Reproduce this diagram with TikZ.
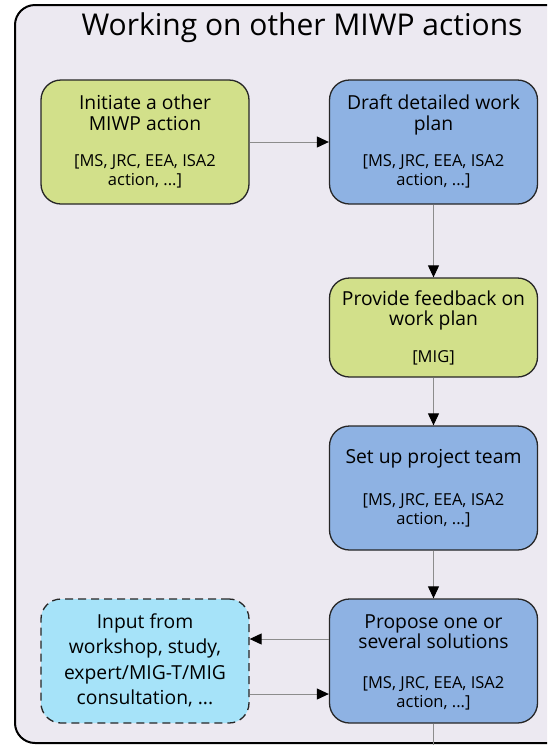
\documentclass[tikz,border=0pt]{standalone}
\usepackage{fontspec}
\setmainfont{Open Sans}
\usetikzlibrary{arrows.meta}
\definecolor{bgc}{HTML}{ECE9F1}
\definecolor{greenc}{HTML}{D2E08A}
\definecolor{bluec}{HTML}{8EB2E3}
\definecolor{cyanc}{HTML}{A6E3F9}
\definecolor{linec}{HTML}{8C8C8C}
\tikzset{
  box/.style={draw=black!85, line width=1.3pt, rounded corners=20pt, minimum width=208pt, minimum height=124pt, inner sep=0pt},
  gbox/.style={box, fill=greenc},
  bbox/.style={box, fill=bluec},
  cbox/.style={box, fill=cyanc, dash pattern=on 8pt off 5pt},
  main/.style={anchor=base, font=\fontsize{19.3}{21}\selectfont, inner sep=0pt},
  sub/.style={anchor=base, font=\fontsize{16.5}{19}\selectfont, inner sep=0pt},
  conn/.style={draw=linec, line width=1pt, -{Triangle[length=12pt,width=11pt,fill=black,color=black]}},
}
\begin{document}
\begin{tikzpicture}[x=1pt,y=-1pt]
\useasboundingbox (0,0) rectangle (547,745);
\clip (0,0) rectangle (547,745);
\draw[line width=2pt, fill=bgc, rounded corners=20pt] (15,743) -- (15,5) -- (580,5) -- (580,743) -- cycle;
\node[anchor=base, font=\fontsize{30}{34}\selectfont, inner sep=0pt] (title) at (302,35) {Working on other MIWP actions};

\node[gbox] (b1) at (145,142) {};
\node[bbox] (b2) at (433.5,142) {};
\node[gbox, minimum height=99pt] (b3) at (433.5,327.5) {};
\node[bbox] (b4) at (433.5,488) {};
\node[bbox] (b5) at (433.5,661) {};
\node[cbox] (b6) at (145,661) {};

% texts
\node[main] (t1a) at (145,109) {Initiate a other};
\node[main] (t1b) at (145,130) {MIWP action};
\node[sub] (t1c) at (145,166) {[MS, JRC, EEA, ISA2};
\node[sub] (t1d) at (145,185) {action, ...]};

\node[main] (t2a) at (433.5,109) {Draft detailed work};
\node[main] (t2b) at (433.5,130) {plan};
\node[sub] (t2c) at (433.5,166) {[MS, JRC, EEA, ISA2};
\node[sub] (t2d) at (433.5,185) {action, ...]};

\node[main] (t3a) at (433.5,305) {Provide feedback on};
\node[main] (t3b) at (433.5,325) {work plan};
\node[sub] (t3c) at (433.5,362) {[MIG]};

\node[main] (t4a) at (433.5,463) {Set up project team};
\node[sub] (t4c) at (433.5,505) {[MS, JRC, EEA, ISA2};
\node[sub] (t4d) at (433.5,524) {action, ...]};

\node[main] (t5a) at (433.5,628) {Propose one or};
\node[main] (t5b) at (433.5,648) {several solutions};
\node[sub] (t5c) at (433.5,688) {[MS, JRC, EEA, ISA2};
\node[sub] (t5d) at (433.5,707) {action, ...]};

\node[main] (t6a) at (145,628) {Input from};
\node[main] (t6b) at (145,653.5) {workshop, study,};
\node[main] (t6c) at (145,679) {expert/MIG-T/MIG};
\node[main] (t6d) at (145,704.5) {consultation, ...};

% connectors
\draw[conn] (b1.east) -- (b2.west);
\draw[conn] (b2.south) -- (b3.north);
\draw[conn] (b3.south) -- (b4.north);
\draw[conn] (b4.south) -- (b5.north);
\coordinate (down) at (433.5,760);
\draw[draw=linec, line width=1pt] (b5.south) -- (down);
\draw[conn] (b5.west |- 0,639) -- (b6.east |- 0,639);
\draw[conn] (b6.east |- 0,694) -- (b5.west |- 0,694);
\end{tikzpicture}
\end{document}
